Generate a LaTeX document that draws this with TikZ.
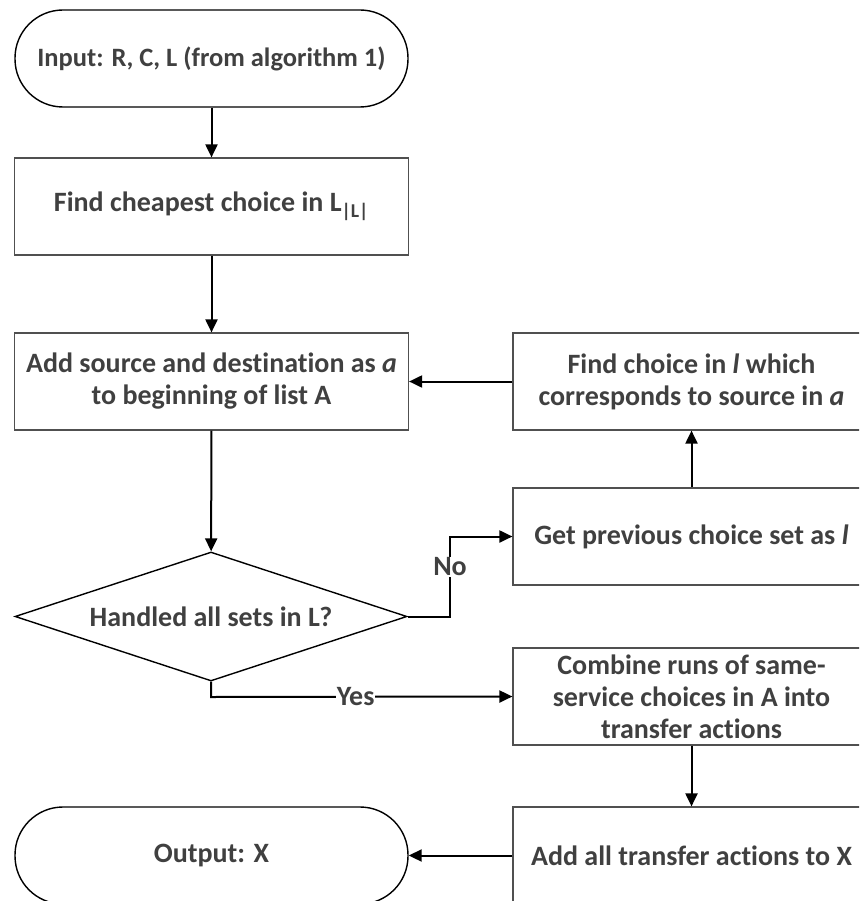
\documentclass[tikz,border=0pt]{standalone}
\usepackage{fontspec}
\setmainfont{Carlito}[Ligatures={NoCommon}]
\usetikzlibrary{arrows.meta,shapes.geometric}
\definecolor{txt}{HTML}{404040}
\definecolor{boxline}{HTML}{505050}
\begin{document}
\begin{tikzpicture}[x=1pt,y=-1pt,
  every node/.style={font=\fontsize{28}{32}\selectfont\bfseries, text=txt, align=center},
  term/.style={draw=black, line width=1.4pt, rounded corners=48pt, minimum width=393pt, minimum height=97pt, inner sep=0pt},
  proc/.style={draw=boxline, line width=1.2pt, minimum width=394pt, minimum height=97pt, inner sep=0pt},
  rproc/.style={draw=boxline, line width=1.2pt, minimum width=357pt, minimum height=97pt, inner sep=0pt},
  dec/.style={draw=black, line width=1.4pt, diamond, shape aspect=3, minimum width=392pt, minimum height=129pt, inner sep=0pt},
  conn/.style={draw=black, line width=2pt, -{Triangle[length=13pt,width=12pt]}},
  lbl/.style={fill=white, inner sep=1pt}
]
\useasboundingbox (0,0) rectangle (859,901);
\clip (0,0) rectangle (859,901);

\node[term, font=\fontsize{26.5}{32}\selectfont\bfseries] (in) at (211.5,58.5) {Input: R, C, L (from algorithm 1)};
\node[proc] (find) at (211.5,206.5) {Find cheapest choice in L\textsubscript{|L|}};
\node[proc] (add) at (211.5,381.5) {Add source and destination as \textit{a}\\to beginning of list A};
\node[dec] (dec) at (211,616.5) {Handled all sets in L?};
\node[rproc] (fc) at (691.5,381.5) {Find choice in \textit{l} which\\corresponds to source in \textit{a}};
\node[rproc] (gp) at (691.5,536.5) {Get previous choice set as \textit{l}};
\node[rproc] (comb) at (691.5,696.5) {Combine runs of same-\\service choices in A into\\transfer actions};
\node[rproc] (addx) at (691.5,855.5) {Add all transfer actions to X};
\node[term] (out) at (211.5,855.5) {Output: X};

\coordinate (nocorner1) at (450,616.5);
\coordinate (nocorner2) at (450,536.5);
\coordinate (yescorner) at (211,697);

\draw[conn] (in) -- (find);
\draw[conn] (find) -- (add);
\draw[conn] (add) -- (dec);
\draw[conn] (dec.east) -- (nocorner1) -- node[lbl, pos=0.62]{No} (nocorner2) -- (gp.west);
\draw[conn] (gp) -- (fc);
\draw[conn] (fc) -- (add);
\draw[conn] (dec.south) -- (yescorner) -- node[lbl, pos=0.48]{Yes} (comb.west);
\draw[conn] (comb) -- (addx);
\draw[conn] (addx) -- (out);
\end{tikzpicture}
\end{document}
